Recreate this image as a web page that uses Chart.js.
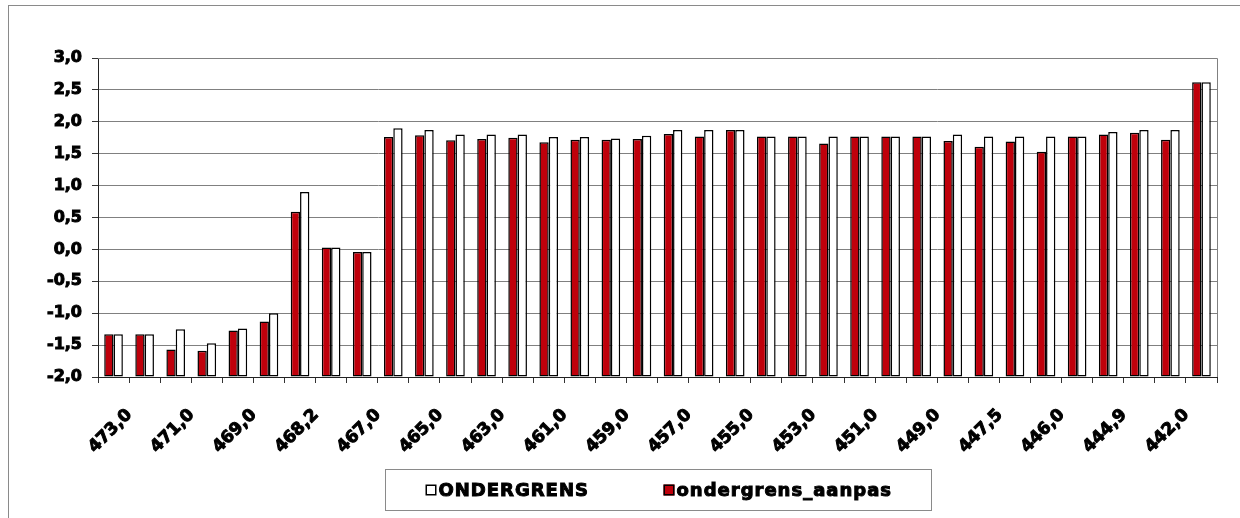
<!DOCTYPE html>
<html>
<head>
<meta charset="utf-8">
<script src="https://cdn.jsdelivr.net/npm/chart.js@4"></script>
<style>
  html, body { margin: 0; padding: 0; background: #fff; }
  #wrap { width: 1240px; height: 518px; }
</style>
</head>
<body>
<div id="wrap"><canvas id="chart" width="1240" height="518"></canvas></div>
<script>
// peilen (categorieën) en bijbehorende waarden
const categories = [
  "473,0", "472,0", "471,0", "470,0", "469,0", "468,9", "468,2", "467,8", "467,0", "466,0",
  "465,0", "464,0", "463,0", "462,0", "461,0", "460,0", "459,0", "458,0", "457,0", "456,0",
  "455,0", "454,0", "453,0", "452,0", "451,0", "450,0", "449,0", "448,0", "447,5", "447,0",
  "446,0", "445,5", "444,9", "443,5", "442,0", "441,0"
];

const ondergrens = [
  -1.33, -1.33, -1.25, -1.47, -1.24, -1.00, 0.90, 0.03, -0.04, 1.90,
  1.87, 1.80, 1.80, 1.80, 1.76, 1.76, 1.74, 1.78, 1.87, 1.87,
  1.87, 1.77, 1.77, 1.77, 1.77, 1.77, 1.77, 1.80, 1.77, 1.77,
  1.77, 1.77, 1.84, 1.87, 1.87, 2.62
];

const ondergrensAanpas = [
  -1.33, -1.33, -1.57, -1.59, -1.27, -1.13, 0.59, 0.03, -0.04, 1.76,
  1.79, 1.71, 1.73, 1.75, 1.68, 1.72, 1.72, 1.73, 1.81, 1.77,
  1.87, 1.77, 1.77, 1.66, 1.77, 1.77, 1.77, 1.70, 1.61, 1.69,
  1.53, 1.77, 1.80, 1.83, 1.72, 2.62
];

const yMin = -2.0;
const yMax = 3.0;
const yStep = 0.5;

const FONT = "'DejaVu Sans', 'Verdana', sans-serif";
const RED = "#bf000b";

function fmt(v) {
  return v.toFixed(1).replace(".", ",");
}

// kader rond het geheel, rand om het plotgebied en de legenda in een kader
const decorations = {
  id: "decorations",
  beforeDraw(chart) {
    const ctx = chart.ctx;
    ctx.save();
    ctx.fillStyle = "#fff";
    ctx.fillRect(0, 0, chart.width, chart.height);
    ctx.strokeStyle = "#8a8a8a";
    ctx.lineWidth = 1;
    ctx.strokeRect(8.5, 5.5, chart.width + 20, chart.height + 20);
    ctx.restore();
  },
  beforeDatasetsDraw(chart) {
    const a = chart.chartArea;
    const ctx = chart.ctx;
    ctx.save();
    ctx.strokeStyle = "#808080";
    ctx.lineWidth = 1;
    ctx.beginPath();
    ctx.moveTo(a.left, Math.round(a.top) + 0.5);
    ctx.lineTo(Math.round(a.right) + 0.5, Math.round(a.top) + 0.5);
    ctx.lineTo(Math.round(a.right) + 0.5, a.bottom);
    ctx.stroke();
    ctx.restore();
  },
  afterDraw(chart) {
    const ctx = chart.ctx;
    const box = { x: 385.5, y: 469.5, w: 546, h: 41 };
    ctx.save();
    ctx.strokeStyle = "#8a8a8a";
    ctx.lineWidth = 1;
    ctx.strokeRect(box.x, box.y, box.w, box.h);

    // legenda in omgekeerde volgorde van de datasets
    const items = chart.data.datasets.slice().reverse();
    ctx.font = "bold 18px " + FONT;
    ctx.letterSpacing = "1px";
    ctx.textBaseline = "middle";
    ctx.textAlign = "left";
    const cy = box.y + box.h / 2;
    items.forEach((ds, i) => {
      const x = box.x + 40 + i * 238;
      ctx.fillStyle = ds.backgroundColor;
      ctx.fillRect(x, cy - 5.5, 11, 11);
      ctx.strokeStyle = "#000";
      ctx.lineWidth = 1.5;
      ctx.strokeRect(x + 0.75, cy - 4.75, 9.5, 9.5);
      ctx.fillStyle = "#000";
      ctx.lineWidth = 1;
      ctx.strokeText(ds.label, x + 13, cy + 1);
      ctx.fillText(ds.label, x + 13, cy + 1);
    });
    ctx.restore();
  }
};

new Chart(document.getElementById("chart"), {
  type: "bar",
  data: {
    labels: categories,
    datasets: [
      {
        label: "ondergrens_aanpas",
        data: ondergrensAanpas,
        backgroundColor: RED,
        borderColor: "#000",
        borderWidth: 1.5,
        borderSkipped: false,
        base: yMin
      },
      {
        label: "ONDERGRENS",
        data: ondergrens,
        backgroundColor: "#ffffff",
        borderColor: "#000",
        borderWidth: 1.5,
        borderSkipped: false,
        base: yMin
      }
    ]
  },
  options: {
    responsive: false,
    animation: false,
    events: [],
    layout: { padding: { top: 58, right: 23, bottom: 0, left: 0 } },
    datasets: {
      bar: { categoryPercentage: 0.6, barPercentage: 1.0 }
    },
    plugins: {
      legend: { display: false },
      tooltip: { enabled: false },
      title: { display: false }
    },
    scales: {
      x: {
        grid: {
          drawOnChartArea: false,
          drawTicks: true,
          tickLength: 6,
          tickColor: "#333",
          offset: true
        },
        border: { color: "#222", width: 1 },
        ticks: {
          autoSkip: false,
          maxRotation: 45,
          minRotation: 45,
          padding: 22,
          labelOffset: 16,
          color: "#000",
          textStrokeColor: "#000",
          textStrokeWidth: 1,
          font: { family: FONT, size: 17, weight: "bold" },
          callback: function (value, index) {
            return index % 2 === 0 ? this.getLabelForValue(value) : "";
          }
        },
        afterFit(scale) { scale.height = 141; }
      },
      y: {
        min: yMin,
        max: yMax,
        grid: {
          color: "#808080",
          lineWidth: 1,
          tickLength: 6,
          tickColor: "#333"
        },
        border: { color: "#222", width: 1 },
        ticks: {
          stepSize: yStep,
          padding: 10,
          color: "#000",
          textStrokeColor: "#000",
          textStrokeWidth: 1,
          font: { family: FONT, size: 16, weight: "bold" },
          callback: (v) => fmt(v)
        },
        afterFit(scale) { scale.width = 98; }
      }
    }
  },
  plugins: [decorations]
});
</script>
</body>
</html>
